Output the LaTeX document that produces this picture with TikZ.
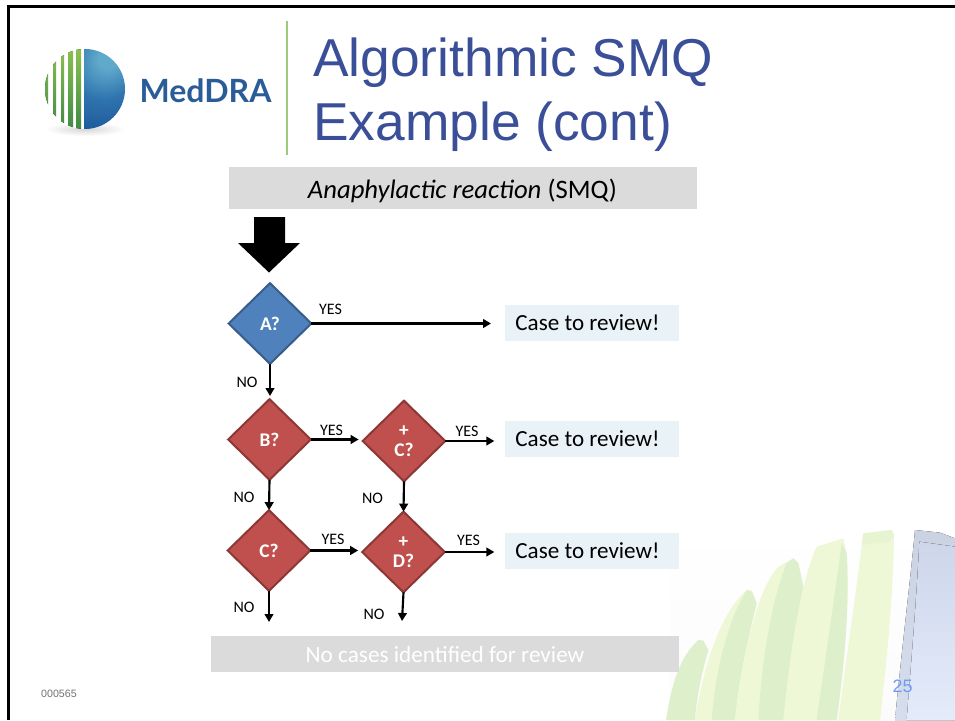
\documentclass[tikz,border=0pt]{standalone}
\usepackage{fontspec}
\setmainfont{Carlito}
\newfontfamily\arialf{Liberation Sans}
\newfontfamily\logof{Lato}
\usetikzlibrary{shapes.geometric,arrows.meta}
\definecolor{titleblue}{HTML}{3A4F98}
\definecolor{diablue}{HTML}{4F81BD}
\definecolor{diablueb}{HTML}{385D8A}
\definecolor{diared}{HTML}{C0504D}
\definecolor{diaredb}{HTML}{8C3836}
\definecolor{casebg}{HTML}{E9F3F7}
\definecolor{barbg}{HTML}{DBDBDB}
\definecolor{finlight}{HTML}{EFF8D6}
\definecolor{findark}{HTML}{DDEFCB}
\definecolor{stripetop}{HTML}{8DC04F}
\definecolor{stripebot}{HTML}{3F8A45}
\definecolor{orbin}{HTML}{5FA9CB}
\definecolor{orbmid}{HTML}{2F74AE}
\definecolor{orbout}{HTML}{174F94}
\definecolor{logoblue}{HTML}{2A5C98}
\definecolor{rulegreen}{HTML}{9CCB7C}
\definecolor{numblue}{HTML}{6C9CF5}
\definecolor{blueedge}{HTML}{CBD3E2}
\definecolor{blueedgelow}{HTML}{D6DEEE}
\definecolor{blueinner}{HTML}{CDD6EA}
\definecolor{bluelow}{HTML}{E4ECFB}
\pgfdeclareradialshading{orbshade}{\pgfpoint{15bp}{20bp}}{color(0bp)=(orbin); color(6bp)=(orbin); color(22bp)=(orbmid); color(46bp)=(orbout); color(100bp)=(orbout)}
\tikzset{
  dec/.style={shape=diamond,aspect=1,inner sep=0pt,outer sep=0pt,line width=1.5pt,text=white,font=\bfseries\fontsize{14.5}{15}\selectfont,align=center},
  bluedec/.style={dec,fill=diablue,draw=diablueb},
  reddec/.style={dec,fill=diared,draw=diaredb},
  casebox/.style={fill=casebg,minimum width=130.5pt,minimum height=27pt,inner sep=0pt,outer sep=0pt,font=\fontsize{17.3}{20}\selectfont},
  lab/.style={font=\fontsize{12}{14}\selectfont,inner sep=0pt},
  flow/.style={line width=1.6pt,-{Triangle[length=6pt,width=6.5pt]}},
  bar/.style={fill=barbg,inner sep=0pt,outer sep=0pt},
  fin/.style={fill=finlight,draw=none},
  findk/.style={fill=findark,draw=none},
  sz/.style={minimum width=62pt,minimum height=60.5pt}
}
\begin{document}
\begin{tikzpicture}[x=0.75pt,y=-0.75pt]
\useasboundingbox (0,0) rectangle (955,720);
\fill[white] (0,0) rectangle (955,720);
% watermark
\fill[top color=white,bottom color=black!1.5] (670,524) rectangle (955,720);
\begin{scope}[shift={(640,510)},x=0.25pt,y=-0.25pt]
\fill[findk] (78,630) .. controls (95,520) and (120,440) .. (175,390) -- (190,392) -- (205,420) .. controls (185,490) and (170,560) .. (165,630) -- cycle;
\fill[fin] (165,630) .. controls (190,470) and (240,310) .. (320,240) -- (335,243) -- (350,280) .. controls (320,400) and (295,520) .. (285,630) -- cycle;
\fill[findk] (215,630) .. controls (225,500) and (255,350) .. (320,240) -- (335,243) -- (350,280) .. controls (320,400) and (295,520) .. (285,630) -- cycle;
\fill[fin] (285,630) .. controls (310,430) and (350,240) .. (415,170) -- (460,145) -- (475,160) -- (490,230) .. controls (460,380) and (440,520) .. (435,630) -- cycle;
\fill[findk] (355,630) .. controls (365,450) and (395,270) .. (440,160) -- (460,145) -- (475,160) -- (490,230) .. controls (460,380) and (440,520) .. (435,630) -- cycle;
\fill[fin] (430,630) .. controls (450,430) and (480,220) .. (530,110) -- (610,85) -- (620,130) .. controls (630,300) and (610,480) .. (590,630) -- cycle;
\fill[findk] (530,630) .. controls (560,420) and (585,250) .. (605,100) -- (620,130) .. controls (630,300) and (610,480) .. (590,630) -- cycle;
\fill[fin] (595,630) .. controls (620,440) and (650,230) .. (670,70) -- (755,60) -- (762,75) .. controls (760,260) and (740,450) .. (720,630) -- cycle;
\fill[findark!50!finlight] (670,70) -- (755,60) -- (762,75) -- (750,95) -- (665,105) -- cycle;
\fill[top color=blueedge,bottom color=blueedgelow] (765,630) .. controls (785,420) and (810,220) .. (825,60) -- (900,68) -- (945,85) -- (945,630) -- cycle;
\fill[top color=blueinner,bottom color=bluelow] (800,630) .. controls (815,440) and (830,260) .. (838,95) -- (945,110) -- (945,630) -- cycle;
\end{scope}
% frame
\fill[black] (7,5) rectangle (955,8);
\fill[black] (7,5) rectangle (10,720);
% logo
\shade[inner color=black!16,outer color=white] (85,129) ellipse (40 and 7);
\begin{scope}
\clip (85,89) circle (40);
\fill[white] (44,48) rectangle (84,130);
\foreach \a/\b in {45/48,53/56,61/64,68/73,76/81}{
  \fill[top color=stripetop,bottom color=stripebot] (\a,49) rectangle (\b,129);
}
\clip (84,48) rectangle (126,130);
\shade[shading=orbshade] (85,89) circle (40);
\end{scope}
\node[inner sep=0pt,text=logoblue] (logotext) at (205.5,91) {\logof\bfseries\fontsize{24}{28}\selectfont MedDRA};
\draw[color=rulegreen,line width=1.5pt] (287,21) -- (287,155);
% title
\node[anchor=west,inner sep=0pt,text=titleblue,align=left,font=\arialf\fontsize{40}{48}\selectfont] (title) at (313,95) {Algorithmic SMQ\\Example (cont)};
% header bar
\node[bar,minimum width=351pt,minimum height=31.5pt] (head) at (463,188) {};
\node[inner sep=0pt] (headtext) at (462.5,191) {\fontsize{20}{24}\selectfont\textit{Anaphylactic reaction} (SMQ)};
% block arrow
\fill[black] (254,217) -- (285,217) -- (285,243) -- (300,243) -- (269,272.5) -- (238,243) -- (254,243) -- cycle;
% decisions
\node[bluedec,sz] (a) at (270,323.5) {A?};
\node[reddec,sz] (b) at (269.5,439.5) {B?};
\node[reddec,sz] (c) at (269,550.5) {C?};
\node[reddec,sz] (pc) at (404,441) {+\\C?};
\node[reddec,sz] (pd) at (403.5,552) {+\\D?};
% outcomes
\node[casebox] (ca) at (592,322.5) {Case to review!\kern6.75pt};
\node[casebox] (cb) at (592,439) {Case to review!\kern6.75pt};
\node[casebox] (cc) at (592,551) {Case to review!\kern6.75pt};
% free ends
\coordinate (enda) at (270,396);
\coordinate (endc) at (269,622);
\coordinate (endd) at (402,621);
% connectors
\draw[flow] (a.east) -- ([xshift=-10.5pt]ca.west |- a.east);
\draw[flow] (pc.east) -- ([xshift=-8pt]cb.west |- pc.east);
\draw[flow] (pd.east) -- ([xshift=-8pt]cc.west |- pd.east);
\draw[flow] (b.east) -- ([xshift=-3pt]pc.west |- b.east);
\draw[flow] (c.east) -- ([xshift=-3pt]pd.west |- c.east);
\draw[flow] (a.south) -- (enda);
\draw[flow] (b.south) -- (c.north);
\draw[flow] (pc.south) -- (pd.north);
\draw[flow] (c.south) -- (endc);
\draw[flow] (pd.south) -- (endd);
% labels
\node[lab] (ya) at (330.5,309) {YES};
\node[lab] (na) at (247,382.5) {NO};
\node[lab] (yb) at (331.5,430) {YES};
\node[lab] (yc) at (467,431) {YES};
\node[lab] (nb) at (244,497) {NO};
\node[lab] (nc) at (372.5,498) {NO};
\node[lab] (yd) at (333,539) {YES};
\node[lab] (ye) at (468.5,540) {YES};
\node[lab] (nd) at (244,607) {NO};
\node[lab] (ne) at (374,614) {NO};
% bottom bar
\node[bar,minimum width=351pt,minimum height=27pt] (foot) at (445,654) {};
\node[inner sep=0pt,text=white] (foottext) at (445,654.5) {\fontsize{17.4}{20}\selectfont No cases identified for review};
% footer
\node[inner sep=0pt,text=black!55] (code) at (59,693.5) {\arialf\fontsize{8}{10}\selectfont 000565};
\node[inner sep=0pt,text=numblue] (num) at (902.5,686.5) {\arialf\fontsize{13.5}{16}\selectfont 25};
\end{tikzpicture}
\end{document}
